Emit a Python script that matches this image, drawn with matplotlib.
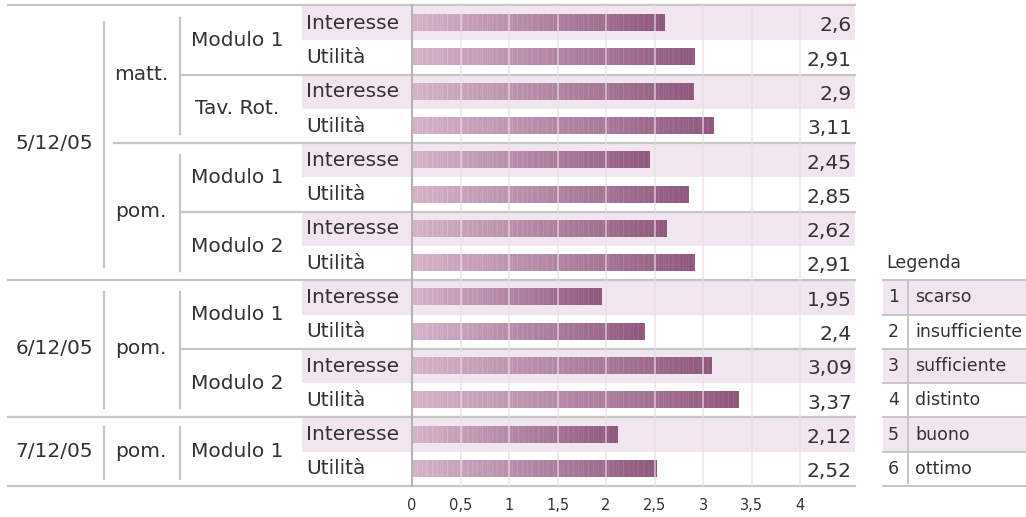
import numpy as np
import matplotlib
matplotlib.use('Agg')
import matplotlib.pyplot as plt
from matplotlib.patches import Rectangle

# dati del questionario
giorni = ['5/12/05', '6/12/05', '7/12/05']
righe_giorno = [8, 4, 2]
sessioni = ['matt.', 'pom.', 'pom.', 'pom.']
righe_sessione = [4, 4, 4, 2]
moduli = ['Modulo 1', 'Tav. Rot.', 'Modulo 1', 'Modulo 2', 'Modulo 1', 'Modulo 2', 'Modulo 1']
voci = ['Interesse', 'Utilità'] * 7
punteggi = [2.6, 2.91, 2.9, 3.11, 2.45, 2.85, 2.62, 2.91, 1.95, 2.4, 3.09, 3.37, 2.12, 2.52]
tick_vals = [0, 0.5, 1, 1.5, 2, 2.5, 3, 3.5, 4]
legenda_num = ['1', '2', '3', '4', '5', '6']
legenda_txt = ['scarso', 'insufficiente', 'sufficiente', 'distinto', 'buono', 'ottimo']

W, H = 1026, 517
X0, X4 = 412, 800          # pixel di 0 e di 4 sull'asse
TOP, BOT = 6, 486
N = len(punteggi)
PXU = (X4 - X0) / 4.0
FS = 14.5

def px(x):
    # da pixel orizzontale a coordinata dati
    return (x - X0) / PXU

def num(v):
    return ('%g' % v).replace('.', ',')

TXT = '#333333'
LINEA = '#c6c6c6'
ROSA = '#f1e6ef'
GRIGLIA = '#ecdde7'

fig = plt.figure(figsize=(W / 100, H / 100), dpi=100)
ax = fig.add_axes([X0 / W, 1 - BOT / H, (X4 - X0) / W, (BOT - TOP) / H])
for s in ax.spines.values():
    s.set_visible(False)

# righe evidenziate (Interesse)
for i in range(0, N, 2):
    ax.add_patch(Rectangle((px(302), i - 0.5), px(855) - px(302), 1, color=ROSA,
                           lw=0, zorder=0, clip_on=False))

# barre sfumate
chiaro = np.array([212, 180, 201]) / 255.0
scuro = np.array([142, 88, 124]) / 255.0
h = 0.235
for i, v in enumerate(punteggi):
    n = max(int(v * PXU), 2)
    t = np.linspace(0, 1, n)[:, None]
    col = chiaro + (scuro - chiaro) * t
    # leggera rigatura verticale
    k = np.arange(n)
    righe = ((k * 7) % 5 == 0) * 0.035 + ((k * 11) % 7 == 0) * 0.02
    col = np.clip(col + righe[:, None], 0, 1)
    ax.imshow(col[None, :, :], extent=[0, v, i + h, i - h], aspect='auto',
              interpolation='nearest', zorder=2)

# griglia verticale
for t in tick_vals[1:]:
    ax.plot([t, t], [-0.5, N - 0.5], color=GRIGLIA, lw=1.1, alpha=0.8, zorder=3,
            clip_on=False)
ax.plot([0, 0], [-0.53, N - 0.5], color='#b4b4b4', lw=1.5, zorder=4, clip_on=False)

# etichette voci e valori
for i, (voce, v) in enumerate(zip(voci, punteggi)):
    ax.text(px(306), i, voce, ha='left', va='center', fontsize=FS, color=TXT, clip_on=False)
    ax.text(px(852), i + 0.08, num(v), ha='right', va='center', fontsize=FS, color=TXT,
            clip_on=False)

def rientro(n):
    return 0.2 + 0.035 * n

# linee orizzontali: bordo superiore e separatori dei gruppi
ax.plot([px(8), px(855)], [-0.53, -0.53], color=LINEA, lw=1.6, clip_on=False)
fine_giorni = set(np.cumsum(righe_giorno))
fine_sess = set(np.cumsum(righe_sessione))
inizio = 0
for g, n in zip(giorni, righe_giorno):
    c = inizio + n / 2 - 0.5
    ax.text(px(54), c, g, ha='center', va='center', fontsize=FS, color=TXT, clip_on=False)
    r = rientro(n)
    ax.plot([px(104)] * 2, [inizio - 0.5 + r, inizio + n - 0.5 - r * 0.8], color=LINEA,
            lw=1.6, clip_on=False)
    ax.plot([px(8), px(855)], [inizio + n - 0.5] * 2, color=LINEA, lw=1.6, clip_on=False)
    inizio += n

inizio = 0
for s, n in zip(sessioni, righe_sessione):
    c = inizio + n / 2 - 0.5
    ax.text(px(141), c, s, ha='center', va='center', fontsize=FS, color=TXT, clip_on=False)
    r = rientro(n)
    ax.plot([px(180)] * 2, [inizio - 0.5 + r, inizio + n - 0.5 - r * 0.8], color=LINEA,
            lw=1.6, clip_on=False)
    fine = inizio + n
    if fine not in fine_giorni:
        ax.plot([px(114), px(855)], [fine - 0.5] * 2, color=LINEA, lw=1.6, clip_on=False)
    inizio += n

for j, m in enumerate(moduli):
    c = 2 * j + 0.5
    ax.text(px(237), c, m, ha='center', va='center', fontsize=FS, color=TXT, clip_on=False)
    fine = 2 * j + 2
    if fine not in fine_sess:
        ax.plot([px(180), px(855)], [fine - 0.5] * 2, color=LINEA, lw=1.6, clip_on=False)

# legenda a tabella
r0 = N - len(legenda_num)
ax.text(px(886), r0 - 1.0, 'Legenda', ha='left', va='center', fontsize=12.5, color=TXT,
        clip_on=False)
for k, (a, b) in enumerate(zip(legenda_num, legenda_txt)):
    y = r0 + k
    if k % 2 == 0:
        ax.add_patch(Rectangle((px(883), y - 0.5), px(1026) - px(883), 1, color=ROSA,
                               lw=0, zorder=0, clip_on=False))
    ax.text(px(888), y, a, ha='left', va='center', fontsize=12.5, color=TXT, clip_on=False)
    ax.text(px(915), y, b, ha='left', va='center', fontsize=12.5, color=TXT, clip_on=False)
for k in range(len(legenda_num) + 1):
    ax.plot([px(883), px(1026)], [r0 + k - 0.5] * 2, color=LINEA, lw=1.4, clip_on=False)
ax.plot([px(908)] * 2, [r0 - 0.5, N - 0.6], color=LINEA, lw=1.4, clip_on=False)

ax.set_xlim(0, 4)
ax.set_ylim(N - 0.5, -0.5)
ax.set_yticks([])
ax.set_xticks(tick_vals)
ax.set_xticklabels([num(t) for t in tick_vals], fontsize=10.5, color=TXT)
ax.tick_params(axis='x', length=0, pad=9)

fig.savefig('out.png', dpi=100)
